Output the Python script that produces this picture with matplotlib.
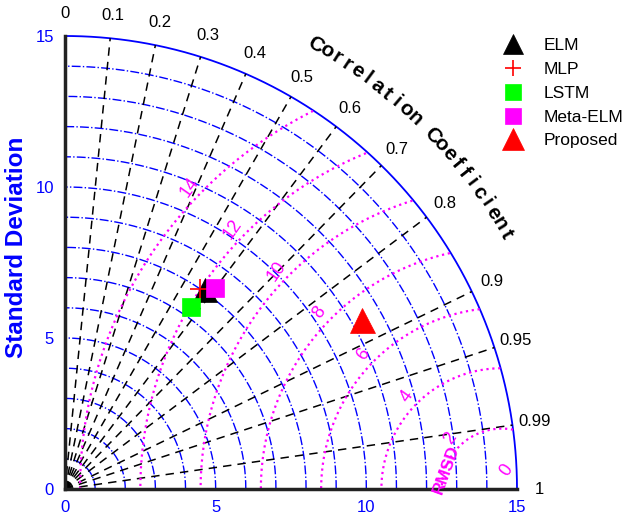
import numpy as np
import matplotlib.pyplot as plt

plt.rcParams['font.family'] = ['Liberation Sans', 'DejaVu Sans']

# Model statistics: standard deviation and correlation against observations
models = ['ELM', 'MLP', 'LSTM', 'Meta-ELM', 'Proposed']
std_dev = [8.07, 7.98, 7.34, 8.32, 11.33]
corr = [0.575, 0.561, 0.569, 0.598, 0.869]
ref_std = 14.5

markers = ['^', '+', 's', 's', '^']
colors = ['black', 'red', '#00ff00', '#ff00ff', 'red']
msizes = [17, 14, 13, 13.5, 18]

corr_ticks = [0, 0.1, 0.2, 0.3, 0.4, 0.5, 0.6, 0.7, 0.8, 0.9, 0.95, 0.99, 1]
std_levels = list(range(1, 15))
rms_levels = [2, 4, 6, 8, 10, 12, 14]
std_ticks = [0, 5, 10, 15]
std_max = 15

fig = plt.figure(figsize=(6.25, 5.19), dpi=100)
ax = fig.add_axes([65/625, 30/519, 452/625, 453/519])
ax.set_xlim(0, std_max)
ax.set_ylim(0, std_max)

theta = np.linspace(0, np.pi/2, 300)

# standard deviation arcs
for s in std_levels:
    ax.plot(s*np.cos(theta), s*np.sin(theta), color='blue', ls='-.', lw=1, clip_on=False)
ax.plot(std_max*np.cos(theta), std_max*np.sin(theta), color='blue', lw=1.3, clip_on=False)

# correlation rays
for c in corr_ticks[1:-1]:
    a = np.arccos(c)
    ax.plot([0, std_max*np.cos(a)], [0, std_max*np.sin(a)], color='black', ls=(0, (5.5, 4)), lw=1.1, clip_on=False)

for c in corr_ticks:
    a = np.arccos(c)
    ax.text(15.75*np.cos(a), 15.75*np.sin(a), f'{c:g}', ha='center', va='center', fontsize=12, color='black')

# curved axis title along the outer arc
title = 'Correlation Coefficient'
angles = np.linspace(np.radians(60.5), np.radians(30), len(title))
for ch, a in zip(title, angles):
    ax.text(16.9*np.cos(a), 16.9*np.sin(a), ch, ha='center', va='center', fontsize=15, fontweight='bold',
            rotation=np.degrees(a) - 90, rotation_mode='anchor')

# centred RMS difference contours
phi = np.linspace(0, np.pi, 600)
lab_dir = np.radians(136)
for r in rms_levels:
    x = ref_std + r*np.cos(phi)
    y = r*np.sin(phi)
    keep = (x**2 + y**2 <= std_max**2) & (x >= 0)
    ax.plot(np.where(keep, x, np.nan), np.where(keep, y, np.nan), color='#ff00ff', ls=':', lw=1.6, clip_on=False)
    ax.text(ref_std + (r + 0.4)*np.cos(lab_dir), (r + 0.4)*np.sin(lab_dir), str(r), color='#ff00ff',
            fontsize=13, rotation=55, ha='center', va='center')
ax.text(ref_std + 0.15, 0.63, '0', color='#ff00ff', fontsize=13, rotation=55, ha='center', va='center')
ax.text(ref_std - 1.85, 0.63, 'RMSD', color='#ff00ff', fontsize=12.5, fontweight='bold', rotation=70,
        ha='center', va='center')

# model points
for name, s, c, m, col, ms in zip(models, std_dev, corr, markers, colors, msizes):
    a = np.arccos(c)
    ax.plot(s*np.cos(a), s*np.sin(a), ls='none', marker=m, color=col, markersize=ms,
            markeredgewidth=1.2 if m == '+' else 0.5, label=name, clip_on=False, zorder=5)

ax.legend(loc='upper left', bbox_to_anchor=(499/625, 1 - 38/519), bbox_transform=fig.transFigure,
          frameon=False, fontsize=12.5, markerscale=0.85, handlelength=1.6, labelspacing=0.5,
          handletextpad=0.95, borderaxespad=0, borderpad=0)

# axes styling
for side in ['top', 'right']:
    ax.spines[side].set_visible(False)
for side in ['left', 'bottom']:
    ax.spines[side].set_linewidth(2.5)
    ax.spines[side].set_color('#222222')
ax.set_xticks(std_ticks)
ax.set_yticks(std_ticks)
ax.tick_params(length=0, labelcolor='blue', labelsize=12, pad=8)
ax.set_ylabel('Standard Deviation', color='blue', fontsize=17.5, fontweight='bold')
ax.yaxis.set_label_coords(-37/452, 0.534)

fig.savefig('out.png', dpi=100)
